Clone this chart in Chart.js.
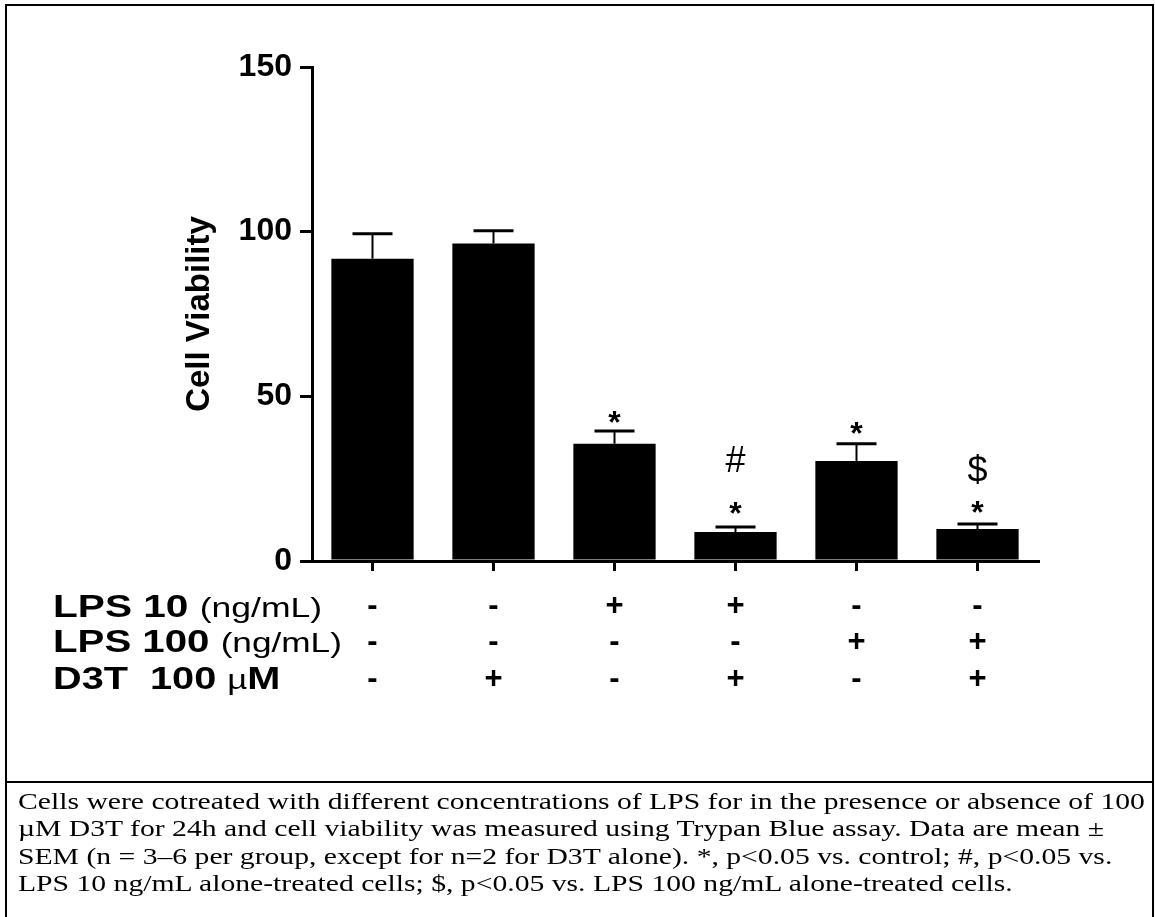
<!DOCTYPE html>
<html>
<head>
<meta charset="utf-8">
<script src="https://cdn.jsdelivr.net/npm/chart.js@4.4.1/dist/chart.umd.min.js"></script>
<style>
  html, body { margin: 0; padding: 0; background: #fff; }
  #page { position: relative; width: 1155px; height: 917px; overflow: hidden; }
  #frame { position: absolute; left: 5px; top: 4px; width: 1149px; height: 1000px;
           border: 2px solid #000; box-sizing: border-box; }
  #sep { position: absolute; left: 5px; top: 781px; width: 1149px; height: 2px; background: #000; }
  #chartBox { position: absolute; left: 0; top: 0; width: 1155px; height: 775px; }
  .row-label { position: absolute; left: 53px; height: 40px; line-height: 40px; white-space: nowrap;
               font-family: "Liberation Sans", Arial, sans-serif; color: #000; transform-origin: left center; }
  .row-label b { font-weight: bold; font-size: 32px; }
  .row-label span { font-weight: normal; font-size: 28px; }
  .cap-line { position: absolute; left: 18px; white-space: nowrap; height: 28px; line-height: 28px;
              font-family: "Liberation Serif", "Times New Roman", serif; font-size: 22.5px; color: #000;
              transform-origin: left center; }
</style>
</head>
<body>
<div id="page">
  <div id="chartBox"><canvas id="viabilityChart"></canvas></div>
  <div id="frame"></div>
  <div id="sep"></div>

  <div class="row-label" id="rowLps10" style="top:586px"><b>LPS 10 </b><span>(ng/mL)</span></div>
  <div class="row-label" id="rowLps100" style="top:621px"><b>LPS 100 </b><span>(ng/mL)</span></div>
  <div class="row-label" id="rowD3t" style="top:658px"><b>D3T&nbsp; 100 </b><span>µ</span><b>M</b></div>

  <div class="cap-line" style="top:788px">Cells were cotreated with different concentrations of LPS for in the presence or absence of 100</div>
  <div class="cap-line" style="top:815px">µM D3T for 24h and cell viability was measured using Trypan Blue assay. Data are mean ±</div>
  <div class="cap-line" style="top:843px">SEM (n = 3–6 per group, except for n=2 for D3T alone). *, p&lt;0.05 vs. control; #, p&lt;0.05 vs.</div>
  <div class="cap-line" style="top:870px">LPS 10 ng/mL alone-treated cells; $, p&lt;0.05 vs. LPS 100 ng/mL alone-treated cells.</div>
</div>

<script>
// Treatment table (one entry per bar)
const lps10Row = ['-', '-', '+', '+', '-', '-'];
const lps100Row = ['-', '-', '-', '-', '+', '+'];
const d3tRow = ['-', '+', '-', '+', '-', '+'];

// Cell viability, mean and SEM
const meanViability = [91.8, 96.4, 35.6, 8.8, 30.4, 9.7];
const semViability = [7.6, 3.9, 3.9, 1.5, 5.2, 1.5];

// y axis ticks
const yTicks = [0, 50, 100, 150];

// significance marks and the level (in y units) where they sit
const starMarks = ['', '', '*', '*', '*', '*'];
const starLevel = [null, null, 43.8, 16.1, 40.4, 16.4];
const extraMarks = ['', '', '', '#', '', '$'];
const extraLevel = [null, null, null, 31.0, null, 28.0];

const labels = lps10Row.map((v, i) => [v, lps100Row[i], d3tRow[i]]);

// draw text so that its ink is centred on y
function drawCentered(ctx, text, x, y) {
    const m = ctx.measureText(text);
    ctx.fillText(text, x, y + (m.actualBoundingBoxAscent - m.actualBoundingBoxDescent) / 2);
}

const errorBarPlugin = {
    id: 'errorBars',
    afterDatasetsDraw(chart) {
        const ctx = chart.ctx;
        const x = chart.scales.x;
        const y = chart.scales.y;
        ctx.save();
        ctx.strokeStyle = '#000';
        ctx.fillStyle = '#000';
        meanViability.forEach((m, i) => {
            const cx = x.getPixelForValue(i);
            const yTop = y.getPixelForValue(m);
            const yCap = y.getPixelForValue(m + semViability[i]);
            ctx.lineWidth = 2;
            ctx.beginPath();
            ctx.moveTo(cx, yTop);
            ctx.lineTo(cx, yCap);
            ctx.stroke();
            ctx.lineWidth = 3;
            ctx.beginPath();
            ctx.moveTo(cx - 20, yCap);
            ctx.lineTo(cx + 20, yCap);
            ctx.stroke();
        });

        ctx.textAlign = 'center';
        ctx.textBaseline = 'alphabetic';
        starMarks.forEach((s, i) => {
            if (!s) return;
            ctx.font = 'bold 32px "Liberation Sans", Arial, sans-serif';
            drawCentered(ctx, s, x.getPixelForValue(i), y.getPixelForValue(starLevel[i]));
        });
        extraMarks.forEach((s, i) => {
            if (!s) return;
            ctx.font = '36px "Liberation Sans", Arial, sans-serif';
            drawCentered(ctx, s, x.getPixelForValue(i), y.getPixelForValue(extraLevel[i]));
        });
        ctx.restore();
    }
};

Chart.defaults.color = '#000';
Chart.defaults.font.family = '"Liberation Sans", Arial, sans-serif';

const chart = new Chart(document.getElementById('viabilityChart'), {
    type: 'bar',
    data: {
        labels: labels,
        datasets: [{
            data: meanViability,
            backgroundColor: '#000',
            borderWidth: 0,
            barPercentage: 0.68,
            categoryPercentage: 1.0
        }]
    },
    options: {
        responsive: true,
        maintainAspectRatio: false,
        animation: false,
        events: [],
        layout: { padding: { left: 0, top: 67, right: 117, bottom: 0 } },
        plugins: {
            legend: { display: false },
            tooltip: { enabled: false }
        },
        scales: {
            x: {
                offset: true,
                grid: { drawOnChartArea: false, drawTicks: true, tickLength: 10, lineWidth: 3, color: '#000', offset: false },
                border: { display: true, width: 3, color: '#000' },
                ticks: {
                    autoSkip: false,
                    maxRotation: 0,
                    padding: 17,
                    font: { size: 31, weight: 'bold', lineHeight: '36.5px' }
                },
                afterFit: s => { s.height = 775 - 561; }
            },
            y: {
                min: 0,
                max: 150,
                afterBuildTicks: s => { s.ticks = yTicks.map(v => ({ value: v })); },
                grid: { drawOnChartArea: false, drawTicks: true, tickLength: 12, lineWidth: 3, color: '#000' },
                border: { display: true, width: 3, color: '#000' },
                ticks: { padding: 8, font: { size: 32, weight: 'bold' } },
                title: {
                    display: true,
                    text: 'Cell Viability',
                    font: { size: 33, weight: 'bold' },
                    padding: { top: 180, bottom: 0 }
                },
                afterFit: s => { s.width = 312; }
            }
        }
    },
    plugins: [errorBarPlugin]
});

// stretch label rows and caption lines to the widths seen in the figure
function fitWidth(el, target) {
    const w = el.scrollWidth;
    el.style.transform = 'scaleX(' + (target / w) + ')';
}
fitWidth(document.getElementById('rowLps10'), 269);
fitWidth(document.getElementById('rowLps100'), 289);
fitWidth(document.getElementById('rowD3t'), 227);
const capLines = document.querySelectorAll('.cap-line');
const capScale = 1127 / capLines[0].scrollWidth;
capLines.forEach(el => { el.style.transform = 'scaleX(' + capScale + ')'; });
</script>
</body>
</html>
